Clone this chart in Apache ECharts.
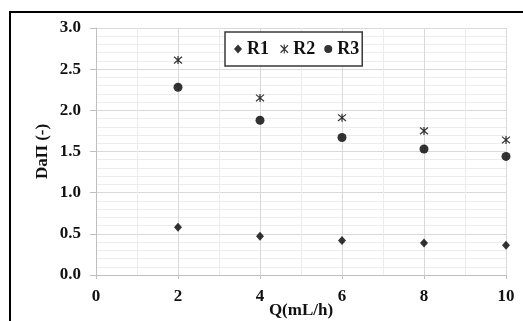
<!DOCTYPE html>
<html>
<head>
<meta charset="utf-8">
<script src="https://cdn.jsdelivr.net/npm/echarts@6/dist/echarts.min.js"></script>
<style>
  html, body { margin: 0; padding: 0; background: #fff; }
  #chart { width: 523px; height: 321px; }
</style>
</head>
<body>
<div id="chart"></div>
<script>
// flow rates and DaII values
const flowQ = [2, 4, 6, 8, 10];
const r1 = [0.58, 0.47, 0.42, 0.39, 0.36];
const r2 = [2.61, 2.15, 1.91, 1.75, 1.64];
const r3 = [2.28, 1.88, 1.67, 1.53, 1.44];
const seriesNames = ['R1', 'R2', 'R3'];

const serif = '"Liberation Serif", "Times New Roman", serif';
const starPath = 'path://M0,0L10,10M10,0L0,10M5,-1L5,11';

function pairs(ys) {
  return flowQ.map((q, i) => [q, ys[i]]);
}

const chart = echarts.init(document.getElementById('chart'));

const option = {
  animation: false,
  grid: { left: 96, right: 17, top: 28, bottom: 46, containLabel: false, outerBoundsMode: 'none' },
  graphic: [
    {
      type: 'rect',
      shape: { x: 10, y: 12, width: 530, height: 330 },
      style: { fill: 'none', stroke: '#000', lineWidth: 2 },
      z: -1
    }
  ],
  legend: {
    left: 225,
    top: 32,
    padding: [8, 3, 8, 9],
    itemGap: 9,
    itemWidth: 8,
    itemHeight: 9,
    borderColor: '#3a3a3a',
    borderWidth: 1.5,
    backgroundColor: '#fff',
    textStyle: { fontFamily: serif, fontWeight: 'bold', fontSize: 18, color: '#111' },
    data: [
      { name: 'R1', icon: 'diamond', itemStyle: { color: '#000' } },
      { name: 'R2', icon: starPath, itemStyle: { color: 'none', borderColor: '#000', borderWidth: 1.1 } },
      { name: 'R3', icon: 'circle', itemStyle: { color: '#000' } }
    ]
  },
  xAxis: {
    type: 'value',
    min: 0,
    max: 10,
    interval: 2,
    name: 'Q(mL/h)',
    nameLocation: 'middle',
    nameGap: 27,
    nameMoveOverlap: false,
    nameTextStyle: { fontFamily: serif, fontWeight: 'bold', fontSize: 17, color: '#111' },
    axisLine: { show: true, lineStyle: { color: '#bfbfbf', width: 1 } },
    axisTick: { show: true, length: 4, lineStyle: { color: '#bfbfbf' } },
    axisLabel: { fontFamily: serif, fontWeight: 'bold', fontSize: 17, color: '#111', margin: 13 },
    splitLine: { show: true, lineStyle: { color: '#d9d9d9', width: 1 } },
    minorTick: { show: false, splitNumber: 2 },
    minorSplitLine: { show: true, lineStyle: { color: '#ececec', width: 1 } }
  },
  yAxis: {
    type: 'value',
    min: 0,
    max: 3,
    interval: 0.5,
    name: 'DaΠ (-)',
    nameLocation: 'middle',
    nameGap: 45,
    nameMoveOverlap: false,
    nameTextStyle: { fontFamily: serif, fontWeight: 'bold', fontSize: 17, color: '#111' },
    axisLine: { show: true, lineStyle: { color: '#bfbfbf', width: 1 } },
    axisTick: { show: true, length: 6, lineStyle: { color: '#bfbfbf' } },
    axisLabel: {
      fontFamily: serif, fontWeight: 'bold', fontSize: 17, color: '#111', margin: 15,
      formatter: v => v.toFixed(1)
    },
    splitLine: { show: true, lineStyle: { color: '#d9d9d9', width: 1 } },
    minorTick: { show: false, splitNumber: 5 },
    minorSplitLine: { show: true, lineStyle: { color: '#ececec', width: 1 } }
  },
  series: [
    {
      name: seriesNames[0],
      type: 'scatter',
      symbol: 'diamond',
      symbolSize: [8, 9],
      itemStyle: { color: '#000' },
      data: pairs(r1)
    },
    {
      name: seriesNames[1],
      type: 'scatter',
      symbol: starPath,
      symbolSize: 8,
      itemStyle: { color: 'none', borderColor: '#000', borderWidth: 1.2 },
      data: pairs(r2)
    },
    {
      name: seriesNames[2],
      type: 'scatter',
      symbol: 'circle',
      symbolSize: 9,
      itemStyle: { color: '#000' },
      data: pairs(r3)
    }
  ]
};

chart.setOption(option);
</script>
</body>
</html>
